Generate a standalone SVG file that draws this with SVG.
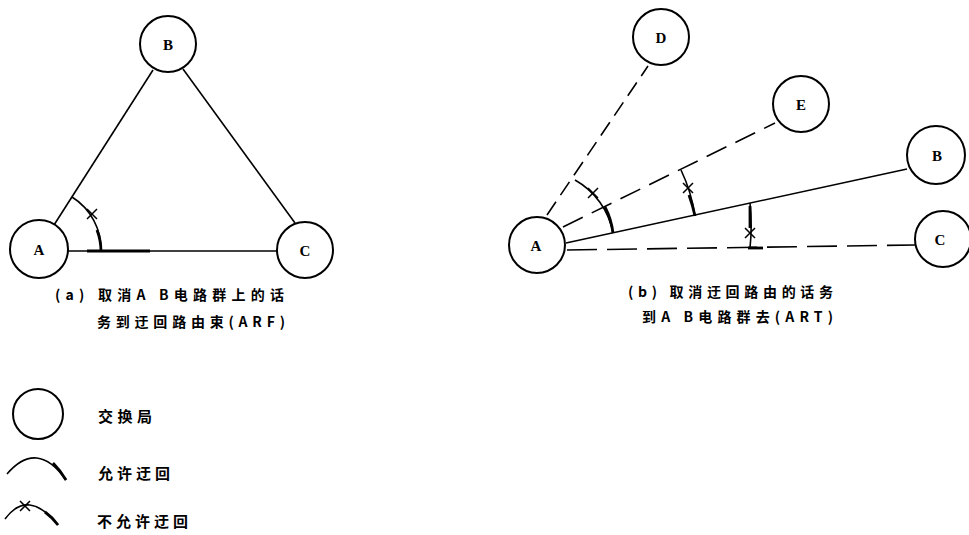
<svg xmlns="http://www.w3.org/2000/svg" width="969" height="535" viewBox="0 0 969 535">
  <defs>
    <style>
      .node { fill: #fff; stroke: #000; stroke-width: 2; }
      .lbl { font-family: "Liberation Serif", serif; font-size: 15px; font-weight: bold; fill: #000; text-anchor: middle; }
      .cap { font-family: "Noto Sans CJK SC", "Liberation Sans", sans-serif; font-size: 14px; font-weight: bold; fill: #000; }
      .leg { font-family: "Noto Sans CJK SC", "Liberation Sans", sans-serif; font-size: 15px; font-weight: bold; fill: #000; }
      .ln { fill: none; stroke: #000; stroke-width: 1.6; }
      .thick { fill: none; stroke: #000; stroke-width: 2.8; }
    </style>
    <!-- small cross marking a barred overflow -->
    <path id="xmark" d="M-5,-5 L5,5 M-5,5 L5,-5" fill="none" stroke="#000" stroke-width="1.5"/>
  </defs>

  <rect width="969" height="535" fill="#fff"/>

  <!-- (a) connectors -->
  <g id="connectors-a">
    <line class="ln" x1="54" y1="225" x2="153" y2="70"/>
    <line class="ln" x1="183" y1="69" x2="295" y2="223"/>
    <line class="ln" x1="68" y1="251" x2="277" y2="251"/>
    <line class="thick" x1="87" y1="251" x2="150" y2="251"/>
    <!-- overflow arc A-B to A-C -->
    <path class="ln" d="M72,197 A62,62 0 0 1 101,251"/>
    <path class="thick" d="M97,230 A62,62 0 0 1 101,251"/>
    <use href="#xmark" x="92" y="214"/>
  </g>

  <g id="a-A"><circle class="node" cx="39" cy="249" r="29"/><text class="lbl" x="39" y="255">A</text></g>
  <g id="a-B"><circle class="node" cx="168" cy="44" r="28"/><text class="lbl" x="168" y="50">B</text></g>
  <g id="a-C"><circle class="node" cx="305" cy="250" r="28"/><text class="lbl" x="305" y="256">C</text></g>

  <g id="caption-a">
    <text class="cap" x="55" y="300" textLength="229" lengthAdjust="spacing">(a) 取消A  B电路群上的话</text>
    <text class="cap" x="97" y="327" textLength="188" lengthAdjust="spacing">务到迂回路由束(ARF)</text>
  </g>

  <!-- (b) connectors -->
  <g id="connectors-b">
    <line class="ln" x1="547" y1="215" x2="648" y2="66" stroke-dasharray="16 8"/>
    <line class="ln" x1="563" y1="227" x2="775" y2="123" stroke-dasharray="22 10"/>
    <line class="ln" x1="566" y1="243" x2="907" y2="169"/>
    <line class="ln" x1="567" y1="250" x2="915" y2="245" stroke-width="2.2" stroke-dasharray="30 10"/>
    <!-- overflow arcs -->
    <path class="ln" d="M575,180 A77,77 0 0 1 613,233"/>
    <path class="thick" d="M605,207 A77,77 0 0 1 613,233"/>
    <use href="#xmark" x="593" y="193"/>
    <path class="ln" d="M681,170 A162,162 0 0 1 695,216"/>
    <path class="thick" d="M689,195 A162,162 0 0 1 695,216"/>
    <use href="#xmark" x="688" y="188"/>
    <path class="ln" d="M750,203 A215,215 0 0 1 750,248"/>
    <path class="thick" d="M750,206 L750,228"/>
    <line class="thick" x1="748" y1="248" x2="763" y2="248"/>
    <use href="#xmark" x="750" y="233"/>
  </g>

  <g id="b-A"><circle class="node" cx="537" cy="245" r="28"/><text class="lbl" x="536" y="251">A</text></g>
  <g id="b-D"><circle class="node" cx="661" cy="37" r="28"/><text class="lbl" x="661" y="43">D</text></g>
  <g id="b-E"><circle class="node" cx="801" cy="104" r="28"/><text class="lbl" x="801" y="110">E</text></g>
  <g id="b-B"><circle class="node" cx="936" cy="155" r="29"/><text class="lbl" x="937" y="161">B</text></g>
  <g id="b-C"><circle class="node" cx="943" cy="239" r="28"/><text class="lbl" x="940" y="245">C</text></g>

  <g id="caption-b">
    <text class="cap" x="628" y="297" textLength="205" lengthAdjust="spacing">(b) 取消迂回路由的话务</text>
    <text class="cap" x="642" y="322" textLength="191" lengthAdjust="spacing">到A  B电路群去(ART)</text>
  </g>

  <!-- legend -->
  <g id="legend-exchange">
    <circle class="node" cx="38" cy="414" r="25"/>
    <text class="leg" x="98" y="422" textLength="54" lengthAdjust="spacing">交换局</text>
  </g>
  <g id="legend-allowed">
    <path class="ln" d="M7,474 Q37,439 66,480"/>
    <path class="thick" d="M53,463 Q60,470 66,480"/>
    <text class="leg" x="98" y="479" textLength="72" lengthAdjust="spacing">允许迂回</text>
  </g>
  <g id="legend-barred">
    <path class="ln" d="M5,519 Q28,488 58,525"/>
    <path class="thick" d="M45,512 Q52,517 58,525"/>
    <use href="#xmark" x="25" y="506"/>
    <text class="leg" x="97" y="527" textLength="91" lengthAdjust="spacing">不允许迂回</text>
  </g>
</svg>
